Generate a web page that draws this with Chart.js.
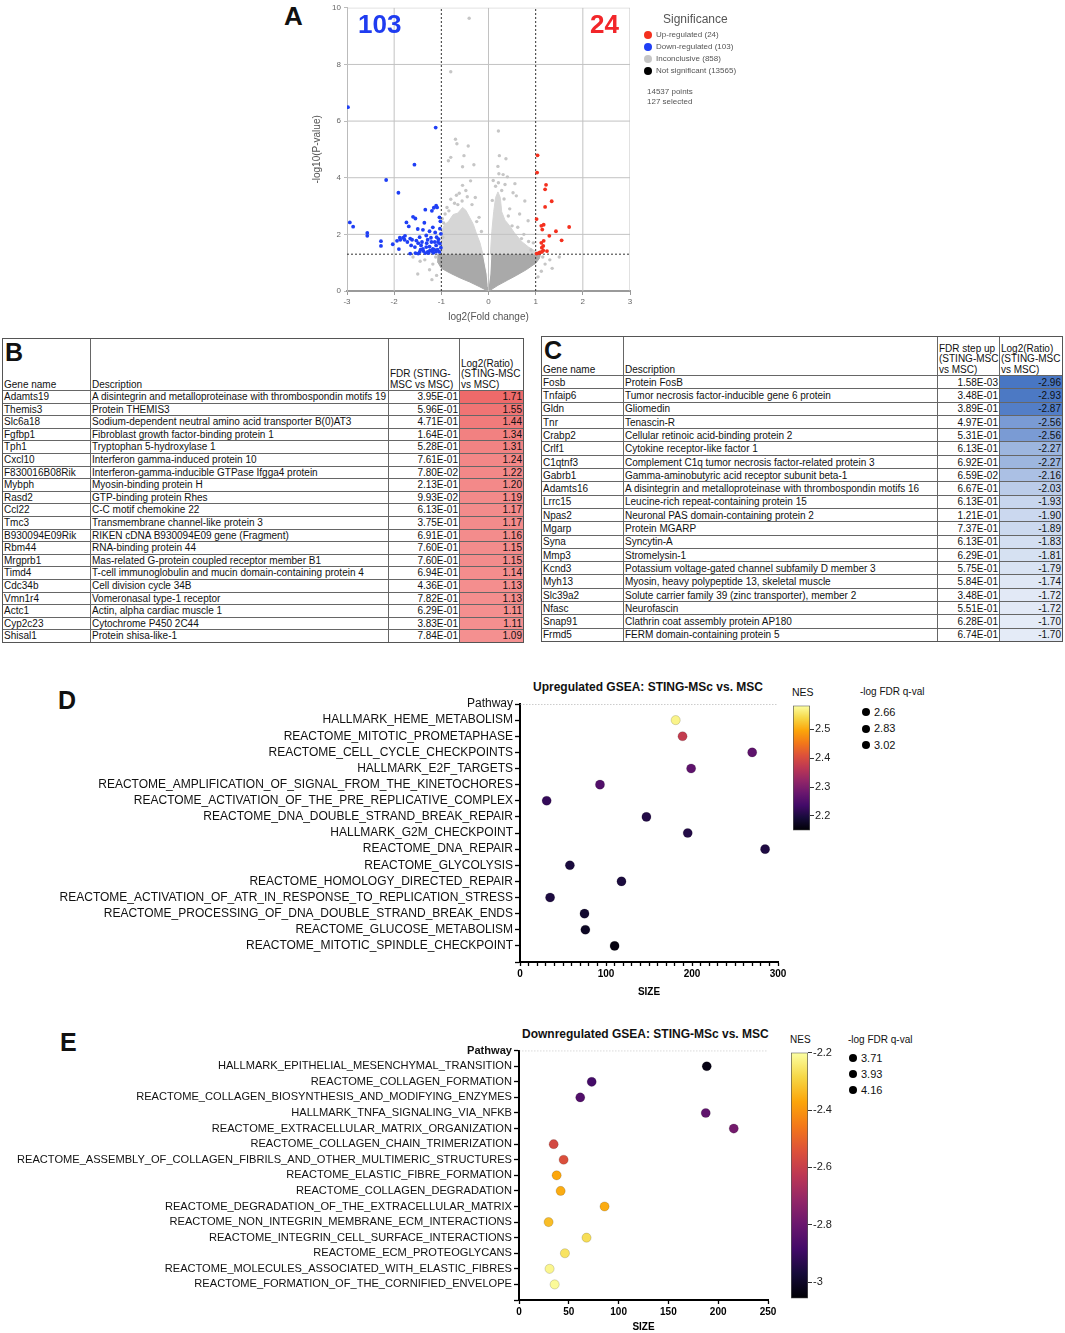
<!DOCTYPE html>
<html>
<head>
<meta charset="utf-8">
<script src="https://cdn.jsdelivr.net/npm/chart.js@4.4.1/dist/chart.umd.min.js"></script>
<style>
body { margin:0; width:1065px; height:1333px; position:relative; background:#fff; overflow:hidden;
       font-family:"Liberation Sans", Arial, sans-serif; color:#111; }
.t { position:absolute; line-height:1; white-space:nowrap; }
.box { position:absolute; }
.dot { position:absolute; border-radius:50%; }
.tbl { position:absolute; display:grid; gap:1px; background:#666; border:1px solid #555; font-size:10px; }
.tbl div { background:#fff; overflow:hidden; white-space:nowrap; padding:0 1px; display:flex; align-items:flex-end; line-height:1.05; }
.tbl .r { justify-content:flex-end; }
.tbl .hd { position:relative; }
.tbl .big { position:absolute; left:2px; top:1px; font-size:25px; font-weight:bold; line-height:1; }
</style>
</head>
<body>

<!-- panel A -->
<div class="t" style="left:284px;top:3px;font-size:26px;font-weight:bold">A</div>
<div class="box" style="left:297px;top:0;width:341px;height:323px"><canvas id="volcano"></canvas></div>
<div class="t" style="left:358px;top:11px;font-size:26px;font-weight:bold;color:#1f3cf0">103</div>
<div class="t" style="left:590px;top:11px;font-size:26px;font-weight:bold;color:#f2262a">24</div>
<div class="t" style="left:663px;top:13px;font-size:12px;color:#555">Significance</div>
<div id="sigLegend"></div>
<div class="t" style="left:647px;top:88px;font-size:8px;color:#555">14537 points</div>
<div class="t" style="left:647px;top:98px;font-size:8px;color:#555">127 selected</div>

<!-- panels B, C -->
<div id="tblUp" class="tbl" style="left:2px;top:338px"></div>
<div id="tblDown" class="tbl" style="left:541px;top:336px"></div>

<!-- panel D -->
<div class="t" style="left:58px;top:688px;font-size:25px;font-weight:bold">D</div>
<div class="t" style="left:533px;top:681px;font-size:12px;font-weight:bold">Upregulated GSEA: STING-MSc vs. MSC</div>
<div class="box" style="left:0;top:694px;width:790px;height:304px"><canvas id="gseaUp"></canvas></div>
<div class="t" style="left:792px;top:687px;font-size:10.5px">NES</div>
<div class="box" style="left:793px;top:698px;width:50px;height:140px"><canvas id="barUp"></canvas></div>
<div class="t" style="left:860px;top:687px;font-size:10px">-log FDR q-val</div>
<div id="fdrUpLegend"></div>

<!-- panel E -->
<div class="t" style="left:60px;top:1030px;font-size:25px;font-weight:bold">E</div>
<div class="t" style="left:522px;top:1028px;font-size:12px;font-weight:bold">Downregulated GSEA: STING-MSc vs. MSC</div>
<div class="box" style="left:0;top:1042px;width:780px;height:291px"><canvas id="gseaDown"></canvas></div>
<div class="t" style="left:790px;top:1035px;font-size:10px">NES</div>
<div class="box" style="left:791px;top:1045px;width:50px;height:261px"><canvas id="barDown"></canvas></div>
<div class="t" style="left:848px;top:1035px;font-size:10px">-log FDR q-val</div>
<div id="fdrDownLegend"></div>

<script>
// ---- A: volcano ----
const upPts = [[1.04,4.79],[1.03,4.18],[1.22,3.75],[1.20,3.59],[1.34,3.17],[1.20,2.97],[1.02,2.54],[1.17,2.34],
  [1.12,2.30],[1.14,2.17],[1.71,2.26],[1.43,2.11],[1.29,1.95],[1.55,1.79],[1.17,1.77],[1.12,1.70],[1.16,1.59],
  [1.13,1.53],[1.24,1.41],[1.16,1.43],[1.09,1.36],[1.02,1.32],[1.06,1.34],[1.13,1.38]];
const downPts = [[-2.98,6.49],[-1.12,5.77],[-1.57,4.46],[-2.17,3.92],[-1.91,3.47],[-2.94,2.42],[-2.87,2.27],
  [-2.57,2.05],[-2.57,1.95],[-2.28,1.76],[-2.28,1.59],[-2.03,1.65],[-1.94,1.77],[-1.90,1.48],[-1.81,1.88],
  [-1.77,1.95],[-1.74,2.42],[-1.69,2.28],[-1.60,2.62],[-1.55,2.56],[-1.34,2.87],[-1.20,2.83],[-1.16,2.94],
  [-1.11,3.01],[-1.09,2.95],[-1.04,2.60],[-1.02,2.46],[-1.03,2.20],[-1.36,2.41],[-1.39,2.16],[-1.50,2.19],
  [-1.25,2.11],[-1.18,2.25],[-1.13,2.07],[-1.66,1.85],[-1.62,1.81],[-1.53,1.78],[-1.46,1.90],[-1.32,1.96],
  [-1.29,1.81],[-1.22,1.88],[-1.10,1.90],[-1.06,1.83],[-1.64,1.61],[-1.56,1.55],[-1.43,1.61],[-1.39,1.49],
  [-1.32,1.55],[-1.25,1.57],[-1.18,1.49],[-1.11,1.61],[-1.03,1.67],[-1.66,1.32],[-1.55,1.34],[-1.46,1.38],
  [-1.38,1.41],[-1.29,1.38],[-1.24,1.43],[-1.20,1.41],[-1.15,1.46],[-1.11,1.39],[-1.08,1.46],[-1.04,1.38],
  [-1.17,1.35],[-1.27,1.34],[-1.34,1.34],[-1.49,1.32],[-1.44,1.46],[-1.01,1.53],[-1.01,2.02],[-1.07,1.73],
  [-1.14,1.73],[-1.21,1.73],[-1.31,1.69],[-1.41,1.73],[-1.49,1.69],[-1.72,1.73],[-1.78,1.81],[-1.87,1.81],
  [-1.88,1.88]];
const inconclusivePts = [[-0.41,9.63],[-0.80,7.74],[0.21,5.65],[-0.70,5.36],[-0.67,5.20],[-0.43,5.12],
  [-0.80,4.72],[-0.85,4.60],[-0.52,4.78],[0.23,4.78],[0.37,4.67],[-0.55,4.39],[-0.31,4.46],[0.22,4.14],
  [0.31,4.11],[0.40,4.03],[-0.38,3.89],[-0.55,3.73],[0.21,3.82],[0.35,3.76],[0.56,3.79],[-0.68,3.38],
  [-0.45,3.33],[-0.28,3.30],[-0.80,3.24],[-0.56,3.18],[0.52,3.47],[0.59,3.36],[0.77,3.18],[-0.92,2.72],
  [-0.84,2.83],[0.66,2.72],[0.84,2.48],[-0.95,2.40],[-0.20,2.60],[0.10,3.90],[0.50,2.30],[0.75,2.00],
  [0.95,1.70],[0.90,1.45],[-0.97,1.90],[-0.15,2.10],[0.45,2.90],[-0.65,3.05],[0.20,4.40],
  [-0.98,2.55],[-0.88,2.95],[-0.72,3.10],[-0.35,3.05],[-0.25,2.45],[0.15,3.70],[0.28,3.55],[0.42,2.65],
  [0.62,2.25],[0.70,1.85],[0.85,1.75],[-0.62,3.45],[-0.48,3.55],[0.08,3.20],[0.33,3.25],
  [-1.12,1.20],[-1.18,0.95],[-1.25,0.75],[-1.35,1.10],[-1.45,1.05],[-1.10,0.55],[-1.20,0.40],[-1.60,1.20],
  [1.15,1.20],[1.20,0.95],[1.30,1.10],[1.12,0.70],[1.35,0.80],[1.50,1.20],[1.05,0.50],[-1.50,0.60]];
// outline of the dense clouds
const nsCloud = [[-1.06,1.3],[-1.07,1.0],[-1.0,0.8],[-0.8,0.62],[-0.6,0.46],[-0.4,0.32],[-0.2,0.16],
  [-0.05,0.03],[0,0],[0.05,0.04],[0.2,0.2],[0.4,0.38],[0.6,0.56],[0.8,0.75],[1.0,0.98],[1.08,1.15],[1.1,1.3]];
const centerGap = [[-0.11,1.3],[-0.03,0.6],[-0.005,0.15],[0.01,0.15],[0.03,0.6],[0.05,1.3]];
const leftWing = [[-1.0,1.3],[-1.0,2.1],[-0.93,2.35],[-0.85,2.45],[-0.75,2.7],[-0.65,2.75],[-0.55,2.95],
  [-0.48,2.85],[-0.4,2.6],[-0.32,2.35],[-0.25,2.0],[-0.18,1.7],[-0.12,1.3]];
const rightWing = [[0.04,1.3],[0.07,2.1],[0.11,2.8],[0.15,3.3],[0.2,3.5],[0.25,3.3],[0.28,2.8],[0.35,2.5],
  [0.45,2.3],[0.55,2.05],[0.7,1.75],[0.85,1.55],[1.0,1.4],[1.0,1.3]];
const pThreshold = 1.3;
const fcThresholds = [-1, 1];
const xGrid = [-2, 0, 2, 3];
const yGrid = [2, 4, 6, 8, 10];

const sigNames = ['Up-regulated (24)', 'Down-regulated (103)', 'Inconclusive (858)', 'Not significant (13565)'];
const sigColors = ['#f4301e', '#1f3ff5', '#c6c6c6', '#000000'];

// ---- B, C: tables ----
const upGenes = ['Adamts19','Themis3','Slc6a18','Fgfbp1','Tph1','Cxcl10','F830016B08Rik','Mybph','Rasd2','Ccl22',
  'Tmc3','B930094E09Rik','Rbm44','Mrgprb1','Timd4','Cdc34b','Vmn1r4','Actc1','Cyp2c23','Shisal1'];
const upDesc = ['A disintegrin and metalloproteinase with thrombospondin motifs 19','Protein THEMIS3',
  'Sodium-dependent neutral amino acid transporter B(0)AT3','Fibroblast growth factor-binding protein 1',
  'Tryptophan 5-hydroxylase 1','Interferon gamma-induced protein 10','Interferon-gamma-inducible GTPase Ifgga4 protein',
  'Myosin-binding protein H','GTP-binding protein Rhes','C-C motif chemokine 22','Transmembrane channel-like protein 3',
  'RIKEN cDNA B930094E09 gene (Fragment)','RNA-binding protein 44','Mas-related G-protein coupled receptor member B1',
  'T-cell immunoglobulin and mucin domain-containing protein 4','Cell division cycle 34B','Vomeronasal type-1 receptor',
  'Actin, alpha cardiac muscle 1','Cytochrome P450 2C44','Protein shisa-like-1'];
const upFdr = ['3.95E-01','5.96E-01','4.71E-01','1.64E-01','5.28E-01','7.61E-01','7.80E-02','2.13E-01','9.93E-02',
  '6.13E-01','3.75E-01','6.91E-01','7.60E-01','7.60E-01','6.94E-01','4.36E-01','7.82E-01','6.29E-01','3.83E-01','7.84E-01'];
const upLog2 = [1.71,1.55,1.44,1.34,1.31,1.24,1.22,1.20,1.19,1.17,1.17,1.16,1.15,1.15,1.14,1.13,1.13,1.11,1.11,1.09];

const downGenes = ['Fosb','Tnfaip6','Gldn','Tnr','Crabp2','Crlf1','C1qtnf3','Gabrb1','Adamts16','Lrrc15','Npas2',
  'Mgarp','Syna','Mmp3','Kcnd3','Myh13','Slc39a2','Nfasc','Snap91','Frmd5'];
const downDesc = ['Protein FosB','Tumor necrosis factor-inducible gene 6 protein','Gliomedin','Tenascin-R',
  'Cellular retinoic acid-binding protein 2','Cytokine receptor-like factor 1',
  'Complement C1q tumor necrosis factor-related protein 3','Gamma-aminobutyric acid receptor subunit beta-1',
  'A disintegrin and metalloproteinase with thrombospondin motifs 16','Leucine-rich repeat-containing protein 15',
  'Neuronal PAS domain-containing protein 2','Protein MGARP','Syncytin-A','Stromelysin-1',
  'Potassium voltage-gated channel subfamily D member 3','Myosin, heavy polypeptide 13, skeletal muscle',
  'Solute carrier family 39 (zinc transporter), member 2','Neurofascin','Clathrin coat assembly protein AP180',
  'FERM domain-containing protein 5'];
const downFdr = ['1.58E-03','3.48E-01','3.89E-01','4.97E-01','5.31E-01','6.13E-01','6.92E-01','6.59E-02','6.67E-01',
  '6.13E-01','1.21E-01','7.37E-01','6.13E-01','6.29E-01','5.75E-01','5.84E-01','3.48E-01','5.51E-01','6.28E-01','6.74E-01'];
const downLog2 = [-2.96,-2.93,-2.87,-2.56,-2.56,-2.27,-2.27,-2.16,-2.03,-1.93,-1.90,-1.89,-1.83,-1.81,-1.79,-1.74,
  -1.72,-1.72,-1.70,-1.70];

// ---- D: upregulated GSEA ----
const upPathways = ['HALLMARK_HEME_METABOLISM','REACTOME_MITOTIC_PROMETAPHASE','REACTOME_CELL_CYCLE_CHECKPOINTS',
  'HALLMARK_E2F_TARGETS','REACTOME_AMPLIFICATION_OF_SIGNAL_FROM_THE_KINETOCHORES',
  'REACTOME_ACTIVATION_OF_THE_PRE_REPLICATIVE_COMPLEX','REACTOME_DNA_DOUBLE_STRAND_BREAK_REPAIR',
  'HALLMARK_G2M_CHECKPOINT','REACTOME_DNA_REPAIR','REACTOME_GLYCOLYSIS','REACTOME_HOMOLOGY_DIRECTED_REPAIR',
  'REACTOME_ACTIVATION_OF_ATR_IN_RESPONSE_TO_REPLICATION_STRESS','REACTOME_PROCESSING_OF_DNA_DOUBLE_STRAND_BREAK_ENDS',
  'REACTOME_GLUCOSE_METABOLISM','REACTOME_MITOTIC_SPINDLE_CHECKPOINT'];
const upSize = [181,189,270,199,93,31,147,195,285,58,118,35,75,76,110];
const upNes = [2.57,2.375,2.267,2.267,2.254,2.223,2.206,2.206,2.202,2.198,2.198,2.2,2.185,2.176,2.159];
const upNesRange = [2.15, 2.582];
const upNesTicks = [2.2, 2.3, 2.4, 2.5];
const upFdrLabels = ['2.66', '2.83', '3.02'];

// ---- E: downregulated GSEA ----
const downPathways = ['HALLMARK_EPITHELIAL_MESENCHYMAL_TRANSITION','REACTOME_COLLAGEN_FORMATION',
  'REACTOME_COLLAGEN_BIOSYNTHESIS_AND_MODIFYING_ENZYMES','HALLMARK_TNFA_SIGNALING_VIA_NFKB',
  'REACTOME_EXTRACELLULAR_MATRIX_ORGANIZATION','REACTOME_COLLAGEN_CHAIN_TRIMERIZATION',
  'REACTOME_ASSEMBLY_OF_COLLAGEN_FIBRILS_AND_OTHER_MULTIMERIC_STRUCTURES','REACTOME_ELASTIC_FIBRE_FORMATION',
  'REACTOME_COLLAGEN_DEGRADATION','REACTOME_DEGRADATION_OF_THE_EXTRACELLULAR_MATRIX',
  'REACTOME_NON_INTEGRIN_MEMBRANE_ECM_INTERACTIONS','REACTOME_INTEGRIN_CELL_SURFACE_INTERACTIONS',
  'REACTOME_ECM_PROTEOGLYCANS','REACTOME_MOLECULES_ASSOCIATED_WITH_ELASTIC_FIBRES',
  'REACTOME_FORMATION_OF_THE_CORNIFIED_ENVELOPE'];
const downSize = [188.5,73,61.5,187.5,215.6,34.8,44.8,37.8,41.8,85.9,29.7,67.8,46.1,30.7,35.8];
const downNes = [-3.03,-2.88,-2.85,-2.82,-2.78,-2.57,-2.55,-2.37,-2.36,-2.36,-2.33,-2.27,-2.26,-2.22,-2.21];
const downNesRange = [-3.056, -2.2];
const downNesTicks = [-3, -2.8, -2.6, -2.4, -2.2];
const downFdrLabels = ['3.71', '3.93', '4.16'];

// inferno colour map
const inferno = ['#000004','#160b39','#420a68','#6a176e','#932667','#bc3754','#dd513a','#f37819','#fca50a','#f6d746','#fcffa4'];
function rgb(h) { return [1,3,5].map(i => parseInt(h.slice(i, i + 2), 16)); }
function infernoAt(t) {
    t = Math.max(0, Math.min(1, t));
    const p = t * 10, i = Math.min(9, Math.floor(p)), f = p - i;
    const a = rgb(inferno[i]), b = rgb(inferno[i + 1]);
    return 'rgb(' + a.map((v, k) => Math.round(v + (b[k] - v) * f)).join(',') + ')';
}
function mix(c1, c2, t) {
    const a = rgb(c1), b = rgb(c2);
    return 'rgb(' + a.map((v, k) => Math.round(v + (b[k] - v) * t)).join(',') + ')';
}

const pt = arr => arr.map(([x, y]) => ({x, y}));

// legend for A
document.getElementById('sigLegend').innerHTML = sigNames.map((n, i) =>
    `<div class="dot" style="left:644px;top:${31 + i * 12}px;width:8px;height:8px;background:${sigColors[i]}"></div>` +
    `<div class="t" style="left:656px;top:${31 + i * 12}px;font-size:8px;color:#555">${n}</div>`).join('');

function fdrLegend(id, labels, left, top, step) {
    document.getElementById(id).innerHTML = labels.map((n, i) =>
        `<div class="dot" style="left:${left}px;top:${top + i * step - 4}px;width:8px;height:8px;background:#000"></div>` +
        `<div class="t" style="left:${left + 12}px;top:${top + i * step - 5.5}px;font-size:11px">${n}</div>`).join('');
}
fdrLegend('fdrUpLegend', upFdrLabels, 862, 712, 16.5);
fdrLegend('fdrDownLegend', downFdrLabels, 849, 1058, 16);

// tables
function buildTable(id, widths, headH, rowH, headers, letter, genes, desc, fdr, log2, colorFn) {
    const el = document.getElementById(id);
    el.style.gridTemplateColumns = widths.map(w => w + 'px').join(' ');
    el.style.gridTemplateRows = headH + 'px repeat(20, ' + rowH + 'px)';
    let html = headers.map((h, i) => `<div class="hd">${i === 0 ? '<span class="big">' + letter + '</span>' : ''}${h}</div>`).join('');
    genes.forEach((g, i) => {
        html += `<div>${g}</div><div>${desc[i]}</div><div class="r">${fdr[i]}</div>` +
                `<div class="r" style="background:${colorFn(log2[i])}">${log2[i].toFixed(2)}</div>`;
    });
    el.innerHTML = html;
}
buildTable('tblUp', [87, 297, 70, 63], 51, 11.6,
    ['Gene name', 'Description', 'FDR (STING-<br>MSC vs MSC)', 'Log2(Ratio)<br>(STING-MSC<br>vs MSC)'], 'B',
    upGenes, upDesc, upFdr, upLog2, v => mix('#f49090', '#ee6a6a', (v - 1.09) / 0.62));
buildTable('tblDown', [81, 313, 61, 62], 38, 12.3,
    ['Gene name', 'Description', 'FDR step up<br>(STING-MSC<br>vs MSC)', 'Log2(Ratio)<br>(STING-MSC<br>vs MSC)'], 'C',
    downGenes, downDesc, downFdr, downLog2, v => mix('#4876c3', '#e4ebf7', (v + 2.96) / 1.26));

Chart.defaults.font.family = '"Liberation Sans", Arial, sans-serif';
Chart.defaults.animation = false;
Chart.defaults.plugins.legend.display = false;
Chart.defaults.plugins.tooltip.enabled = false;

// volcano
const area = (data, color, order) => ({data: pt(data), showLine: true, fill: {value: pThreshold},
    backgroundColor: color, borderColor: color, borderWidth: 1, pointRadius: 0, order});
const dots = (data, color, r, order) => ({data: pt(data), backgroundColor: color, borderWidth: 0, pointRadius: r, order});
const dash = (data, order) => ({data: pt(data), showLine: true, borderColor: '#333', borderWidth: 1,
    borderDash: [2, 2], pointRadius: 0, order});
const gridLine = (data) => ({data: pt(data), showLine: true, borderColor: '#c2c2c2', borderWidth: 1,
    borderDash: [10, 0], pointRadius: 0, order: 4});

new Chart(document.getElementById('volcano'), {
    type: 'scatter',
    data: {datasets: [
        ...xGrid.map(v => gridLine([[v, 0], [v, 10]])),
        ...yGrid.map(v => gridLine([[-3, v], [3, v]])),
        area(nsCloud, '#a9a9a9', 9),
        area(centerGap, '#ffffff', 8),
        area(leftWing, '#d6d6d6', 7),
        area(rightWing, '#d6d6d6', 7),
        dots(inconclusivePts, '#c6c6c6', 1.7, 5),
        dash([[fcThresholds[0], 0], [fcThresholds[0], 10]], 3),
        dash([[fcThresholds[1], 0], [fcThresholds[1], 10]], 3),
        dash([[-3, pThreshold], [3, pThreshold]], 3),
        dots(downPts, sigColors[1], 1.9, 1),
        dots(upPts, sigColors[0], 1.9, 1)
    ]},
    options: {
        responsive: true, maintainAspectRatio: false,
        layout: {padding: {left: 14, top: 5, right: 8, bottom: 0}},
        scales: {
            x: {type: 'linear', min: -3, max: 3,
                ticks: {stepSize: 1, color: '#666', font: {size: 8}, padding: 2},
                grid: {drawOnChartArea: false, tickLength: 4, tickColor: '#999'},
                border: {display: true, color: '#9a9a9a', width: 2},
                title: {display: true, text: 'log2(Fold change)', color: '#555', font: {size: 10}, padding: {top: 1, bottom: 0}},
                afterFit: s => { s.height = 32; }},
            y: {type: 'linear', min: 0, max: 10,
                ticks: {stepSize: 2, color: '#666', font: {size: 8}, padding: 3},
                grid: {drawOnChartArea: false, tickLength: 3, tickColor: '#bbb'},
                border: {display: true, color: '#bbb'},
                title: {display: true, text: '-log10(P-value)', color: '#555', font: {size: 10}, padding: {top: 0, bottom: 2}},
                afterFit: s => { s.width = 36; }}
        }
    }
});

// GSEA dot plots
function gseaChart(id, pathways, sizes, nes, range, xMax, xStep, labelEvery, yWidth, xHeight, padTop, fontSize) {
    const labels = ['Pathway'].concat(pathways);
    new Chart(document.getElementById(id), {
        type: 'scatter',
        data: {datasets: [
            {data: sizes.map((s, i) => ({x: s, y: i + 1})), pointRadius: 4.6,
             pointBackgroundColor: nes.map(v => infernoAt((v - range[0]) / (range[1] - range[0]))),
             pointBorderColor: 'rgba(0,0,0,0.25)', pointBorderWidth: 0.6, order: 1},
            {data: [{x: 0, y: 0}, {x: xMax, y: 0}], showLine: true, borderColor: '#9a9a9a', borderWidth: 1,
             borderDash: [1.5, 1.5], pointRadius: 0, order: 2}
        ]},
        options: {
            responsive: true, maintainAspectRatio: false,
            layout: {padding: {left: 0, top: padTop, right: 12, bottom: 0}},
            scales: {
                x: {type: 'linear', min: 0, max: xMax,
                    ticks: {stepSize: xStep, autoSkip: false, maxRotation: 0, minRotation: 0, color: '#000',
                            font: {size: 10, weight: 'bold'}, padding: 2,
                            callback: v => (v % labelEvery === 0 ? v : '')},
                    grid: {drawOnChartArea: false, tickLength: 4, tickColor: '#000', tickWidth: 1.3},
                    border: {color: '#000', width: 2},
                    title: {display: true, text: 'SIZE', color: '#000', font: {size: 10, weight: 'bold'}, padding: {top: 3, bottom: 0}},
                    afterFit: s => { s.height = xHeight; }},
                y: {type: 'linear', reverse: true, min: 0, max: 16,
                    afterBuildTicks: s => { s.ticks = labels.concat(['']).map((_, i) => ({value: i})); },
                    ticks: {autoSkip: false, color: '#111', padding: 2,
                            font: c => ({size: fontSize, weight: (id === 'gseaDown' && c.index === 0) ? 'bold' : 'normal'}),
                            callback: (v) => labels[v] || ''},
                    grid: {drawOnChartArea: false, tickLength: 5, tickColor: '#000', tickWidth: 1.3},
                    border: {color: '#000', width: 2},
                    afterFit: s => { s.width = yWidth; }}
            }
        }
    });
}
gseaChart('gseaUp', upPathways, upSize, upNes, upNesRange, 300, 10, 100, 520, 36, 10, 12);
gseaChart('gseaDown', downPathways, downSize, downNes, downNesRange, 250, 50, 50, 519, 33, 8, 11.1);

// colour bars
function colorBar(id, range, ticks) {
    new Chart(document.getElementById(id), {
        type: 'bar',
        data: {labels: ['NES'], datasets: [{data: [range],
            backgroundColor: c => {
                const a = c.chart.chartArea;
                if (!a) return '#000';
                const g = c.chart.ctx.createLinearGradient(0, a.bottom, 0, a.top);
                inferno.forEach((col, i) => g.addColorStop(i / 10, col));
                return g;
            },
            borderColor: '#555', borderWidth: 1, borderSkipped: false, barPercentage: 1, categoryPercentage: 1}]},
        options: {
            responsive: true, maintainAspectRatio: false,
            layout: {padding: {top: 6, bottom: 6, left: 0, right: 0}},
            scales: {
                x: {display: false},
                y: {position: 'right', min: range[0], max: range[1],
                    afterBuildTicks: s => { s.ticks = ticks.map(v => ({value: v})); },
                    ticks: {color: '#222', font: {size: 11}, padding: 1, callback: v => String(v)},
                    grid: {drawOnChartArea: false, tickLength: 4, tickColor: '#333'},
                    border: {display: false},
                    afterFit: s => { s.width = 50 - 17; }}
            }
        }
    });
}
colorBar('barUp', upNesRange, upNesTicks);
colorBar('barDown', downNesRange, downNesTicks);
</script>
</body>
</html>
